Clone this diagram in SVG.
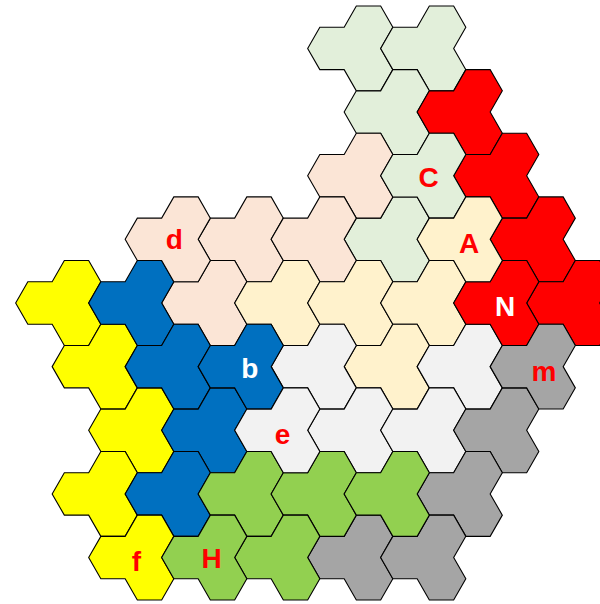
<svg xmlns="http://www.w3.org/2000/svg" width="600" height="604" viewBox="0 0 600 604">
<style>
.tile{stroke:#000;stroke-width:1.1;stroke-linejoin:miter}
.lg{fill:#E2EFDA}.rd{fill:#FF0000}.pk{fill:#FBE5D6}.ly{fill:#FFF2CC}.ye{fill:#FFFF00}
.bl{fill:#0070C0}.gy{fill:#F2F2F2}.dg{fill:#A5A5A5}.gr{fill:#92D050}
.lbl{font-family:"Liberation Sans",Arial,sans-serif;font-weight:bold;font-size:28px;text-anchor:middle}
.r{fill:#FF0000}.w{fill:#FFFFFF}
</style>
<defs>
<path id="t" d="M-48.67,0 L-36.5,-21.215 L-12.17,-21.215 L0,-42.43 L24.33,-42.43 L36.5,-21.215 L24.33,0 L36.5,21.215 L24.33,42.43 L0,42.43 L-12.17,21.215 L-36.5,21.215 Z"/>
</defs>
<rect width="600" height="604" fill="#FFFFFF"/>
<g id="tiles">
<g id="lg1"><use href="#t" class="tile lg" x="356.33" y="48.42"/></g>
<g id="lg2"><use href="#t" class="tile lg" x="429.33" y="48.42"/></g>
<g id="lg3"><use href="#t" class="tile lg" x="392.83" y="112.06"/></g>
<g id="lg5"><use href="#t" class="tile lg" x="392.83" y="239.35"/></g>
<g id="rd1"><use href="#t" class="tile rd" x="465.83" y="112.06"/></g>
<g id="rd2"><use href="#t" class="tile rd" x="502.33" y="175.71"/></g>
<g id="rd3"><use href="#t" class="tile rd" x="538.83" y="239.35"/></g>
<g id="rd5"><use href="#t" class="tile rd" x="575.33" y="303"/></g>
<g id="pk1"><use href="#t" class="tile pk" x="356.33" y="175.71"/></g>
<g id="pk3"><use href="#t" class="tile pk" x="246.83" y="239.35"/></g>
<g id="pk4"><use href="#t" class="tile pk" x="319.83" y="239.35"/></g>
<g id="pk5"><use href="#t" class="tile pk" x="210.33" y="303"/></g>
<g id="ly2"><use href="#t" class="tile ly" x="283.33" y="303"/></g>
<g id="ly3"><use href="#t" class="tile ly" x="356.33" y="303"/></g>
<g id="ly4"><use href="#t" class="tile ly" x="429.33" y="303"/></g>
<g id="ly5"><use href="#t" class="tile ly" x="392.83" y="366.64"/></g>
<g id="ye1"><use href="#t" class="tile ye" x="64.33" y="303"/></g>
<g id="ye2"><use href="#t" class="tile ye" x="100.83" y="366.64"/></g>
<g id="ye3"><use href="#t" class="tile ye" x="137.33" y="430.29"/></g>
<g id="ye4"><use href="#t" class="tile ye" x="100.83" y="493.93"/></g>
<g id="bl1"><use href="#t" class="tile bl" x="137.33" y="303"/></g>
<g id="bl2"><use href="#t" class="tile bl" x="173.83" y="366.64"/></g>
<g id="bl4"><use href="#t" class="tile bl" x="210.33" y="430.29"/></g>
<g id="bl5"><use href="#t" class="tile bl" x="173.83" y="493.93"/></g>
<g id="gy1"><use href="#t" class="tile gy" x="319.83" y="366.64"/></g>
<g id="gy2"><use href="#t" class="tile gy" x="465.83" y="366.64"/></g>
<g id="gy4"><use href="#t" class="tile gy" x="356.33" y="430.29"/></g>
<g id="gy5"><use href="#t" class="tile gy" x="429.33" y="430.29"/></g>
<g id="dg2"><use href="#t" class="tile dg" x="502.33" y="430.29"/></g>
<g id="dg3"><use href="#t" class="tile dg" x="465.83" y="493.93"/></g>
<g id="dg4"><use href="#t" class="tile dg" x="356.33" y="557.58"/></g>
<g id="dg5"><use href="#t" class="tile dg" x="429.33" y="557.58"/></g>
<g id="gr1"><use href="#t" class="tile gr" x="246.83" y="493.93"/></g>
<g id="gr2"><use href="#t" class="tile gr" x="319.83" y="493.93"/></g>
<g id="gr3"><use href="#t" class="tile gr" x="392.83" y="493.93"/></g>
<g id="gr5"><use href="#t" class="tile gr" x="283.33" y="557.58"/></g>
<g id="C"><use href="#t" class="tile lg" x="429.33" y="175.71"/><text class="lbl r" x="428.5" y="187" font-size="27">C</text></g>
<g id="N"><use href="#t" class="tile rd" x="502.33" y="303"/><text class="lbl w" x="505" y="315.8" font-size="29">N</text></g>
<g id="d"><use href="#t" class="tile pk" x="173.83" y="239.35"/><text class="lbl r" x="174.2" y="249" font-size="30">d</text></g>
<g id="A"><use href="#t" class="tile ly" x="465.83" y="239.35"/><text class="lbl r" x="469" y="253.3" font-size="28">A</text></g>
<g id="f"><use href="#t" class="tile ye" x="137.33" y="557.58"/><text class="lbl r" x="136.5" y="571" font-size="33">f</text></g>
<g id="b"><use href="#t" class="tile bl" x="246.83" y="366.64"/><text class="lbl w" x="249.7" y="378.3" font-size="34">b</text></g>
<g id="e"><use href="#t" class="tile gy" x="283.33" y="430.29"/><text class="lbl r" x="282.5" y="443.5" font-size="32">e</text></g>
<g id="m"><use href="#t" class="tile dg" x="538.83" y="366.64"/><text class="lbl r" x="544" y="381" font-size="35">m</text></g>
<g id="H"><use href="#t" class="tile gr" x="210.33" y="557.58"/><text class="lbl r" x="211.7" y="568.3" font-size="28">H</text></g>
</g>
</svg>
